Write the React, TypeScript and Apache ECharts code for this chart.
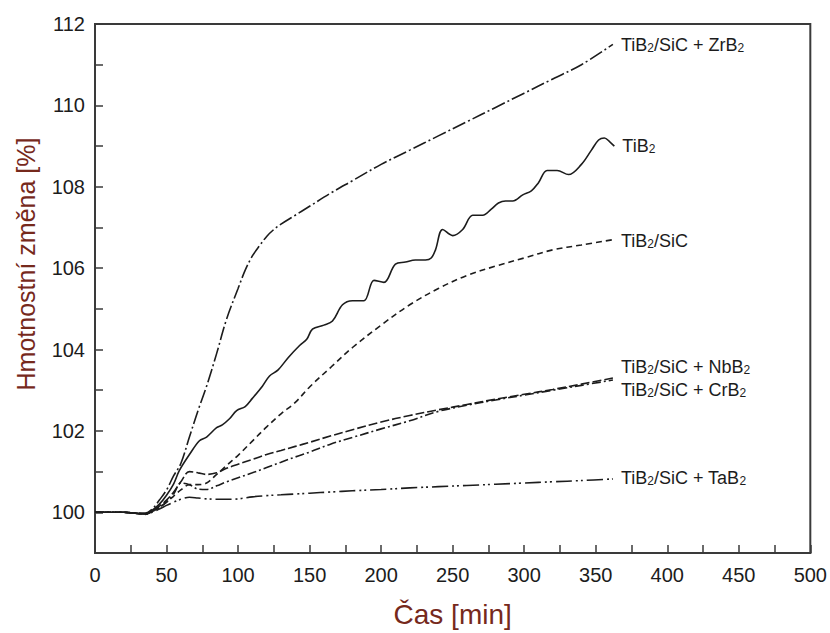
import React, { useEffect, useRef } from 'react';
import * as echarts from 'echarts';

// Shared sampling times (min) for the smooth curves
const timeGrid = [0, 10, 20, 30, 35, 40, 45, 50, 55, 60, 66, 72, 78, 85, 92, 100, 110, 120, 130, 140, 150, 165, 180, 200, 220, 240, 260, 280, 300, 320, 340, 362];

// TiB2/SiC + ZrB2 has its own (denser) sampling around the knee
const zrb2Times = [0, 10, 20, 30, 35, 40, 45, 50, 55, 60, 66, 72, 78, 85, 92, 100, 105, 110, 115, 120, 125, 130, 140, 150, 165, 180, 200, 220, 240, 260, 280, 300, 320, 340, 362];
const zrb2Values = [100, 100, 100, 99.98, 99.98, 100.08, 100.3, 100.55, 100.9, 101.2, 101.85, 102.5, 103.1, 103.9, 104.75, 105.5, 105.95, 106.3, 106.55, 106.78, 106.95, 107.08, 107.3, 107.52, 107.85, 108.15, 108.55, 108.9, 109.25, 109.6, 109.95, 110.3, 110.65, 111.0, 111.5];

const sicValues = [100, 100, 100, 99.97, 99.95, 100.02, 100.12, 100.25, 100.4, 100.55, 100.68, 100.68, 100.72, 100.93, 101.15, 101.4, 101.75, 102.1, 102.42, 102.7, 103.08, 103.57, 104.05, 104.6, 105.1, 105.5, 105.82, 106.05, 106.25, 106.45, 106.57, 106.7];
const nbb2Values = [100, 100, 100, 99.97, 99.96, 100.03, 100.15, 100.3, 100.5, 100.75, 101.0, 100.97, 100.93, 100.97, 101.08, 101.18, 101.3, 101.42, 101.52, 101.62, 101.72, 101.88, 102.03, 102.22, 102.38, 102.52, 102.65, 102.78, 102.9, 103.02, 103.15, 103.3];
const crb2Values = [100, 100, 100, 99.97, 99.96, 100.02, 100.12, 100.25, 100.45, 100.72, 100.68, 100.57, 100.56, 100.65, 100.75, 100.85, 100.97, 101.1, 101.23, 101.36, 101.48, 101.68, 101.84, 102.05, 102.25, 102.48, 102.63, 102.76, 102.88, 103.0, 103.12, 103.25];
const tab2Values = [100, 100, 100, 99.97, 99.96, 100.0, 100.08, 100.17, 100.25, 100.32, 100.37, 100.35, 100.33, 100.32, 100.32, 100.33, 100.38, 100.41, 100.43, 100.45, 100.47, 100.5, 100.53, 100.56, 100.6, 100.63, 100.66, 100.69, 100.72, 100.75, 100.78, 100.82];

// TiB2 (wavy curve) has its own sampling
const tib2Times = [0, 10, 20, 30, 35, 40, 45, 50, 55, 59, 66, 73, 78, 85, 89, 94, 99, 105, 110, 117, 122, 128, 135, 143, 148, 152, 160, 166, 173, 180, 188, 195, 202, 210, 217, 224, 231, 235, 238, 243, 250, 257, 264, 271, 277, 282, 287, 292, 299, 305, 310, 316, 323, 331, 340, 347, 352, 356, 360, 363];
const tib2Values = [100, 100, 100, 99.97, 99.96, 100.05, 100.2, 100.42, 100.7, 101.03, 101.42, 101.76, 101.85, 102.08, 102.15, 102.3, 102.5, 102.6, 102.8, 103.1, 103.35, 103.5, 103.8, 104.1, 104.25, 104.5, 104.6, 104.7, 105.1, 105.2, 105.2, 105.7, 105.65, 106.1, 106.15, 106.2, 106.2, 106.25, 106.45, 106.95, 106.8, 106.95, 107.3, 107.3, 107.45, 107.6, 107.65, 107.65, 107.8, 107.9, 108.1, 108.4, 108.4, 108.3, 108.55, 108.9, 109.15, 109.2, 109.1, 109.0];

// Curve labels (rich text: b = normal, s = subscript)
const seriesNames = ['TiB2/SiC + ZrB2', 'TiB2', 'TiB2/SiC', 'TiB2/SiC + NbB2', 'TiB2/SiC + CrB2', 'TiB2/SiC + TaB2'];
const seriesLabels = [
  '{b|TiB}{s|2}{b|/SiC + ZrB}{s|2}',
  '{b|TiB}{s|2}',
  '{b|TiB}{s|2}{b|/SiC}',
  '{b|TiB}{s|2}{b|/SiC + NbB}{s|2}',
  '{b|TiB}{s|2}{b|/SiC + CrB}{s|2}',
  '{b|TiB}{s|2}{b|/SiC + TaB}{s|2}',
];

const xTicksMajor = 50;
const yTicksMajor = 2;

const FONT = '"Liberation Sans", Arial, Helvetica, sans-serif';
const INK = '#1c1c1c';
const NAME_COLOR = '#76291c';

function pairs(t: number[], v: number[]) {
  return t.map((x, i) => [x, v[i]]);
}

export default function App() {
  const ref = useRef<HTMLDivElement>(null);

  useEffect(() => {
    if (!ref.current) return;
    const chart = echarts.init(ref.current, null, { renderer: 'svg' });

    const rich = {
      b: { fontSize: 18, fontFamily: FONT, color: INK, lineHeight: 20, verticalAlign: 'bottom' },
      s: { fontSize: 12, fontFamily: FONT, color: INK, lineHeight: 13, verticalAlign: 'bottom' },
    };

    const styles: { dash: any; dy: number }[] = [
      { dash: [14, 3, 2, 3], dy: 0 },
      { dash: 'solid', dy: -1 },
      { dash: [6, 4], dy: 0 },
      { dash: [9, 3], dy: -12 },
      { dash: [9, 3, 2, 3], dy: 9 },
      { dash: [16, 4, 2, 3, 2, 4], dy: -2 },
    ];

    const datasets = [
      pairs(zrb2Times, zrb2Values),
      pairs(tib2Times, tib2Values),
      pairs(timeGrid, sicValues),
      pairs(timeGrid, nbb2Values),
      pairs(timeGrid, crb2Values),
      pairs(timeGrid, tab2Values),
    ];

    const series = datasets.map((data, i) => ({
      name: seriesNames[i],
      type: 'line',
      data,
      smooth: 0.35,
      showSymbol: false,
      symbol: 'none',
      lineStyle: { color: INK, width: 1.6, type: styles[i].dash },
      endLabel: {
        show: true,
        formatter: () => seriesLabels[i],
        distance: 8,
        offset: [0, styles[i].dy],
        rich,
      },
      z: 3,
    }));

    chart.setOption({
      animation: false,
      backgroundColor: '#ffffff',
      grid: {
        left: 95,
        right: 18,
        top: 24,
        bottom: 77,
        show: true,
        borderColor: '#3a3a3a',
        borderWidth: 2,
      },
      xAxis: {
        type: 'value',
        min: 0,
        max: 500,
        interval: 25,
        name: 'Čas [min]',
        nameLocation: 'middle',
        nameGap: 47,
        nameTextStyle: { fontSize: 28, fontFamily: FONT, color: NAME_COLOR },
        axisLine: { show: true, lineStyle: { color: '#3a3a3a', width: 2 } },
        axisTick: { show: true, inside: true, length: 8, lineStyle: { color: '#3a3a3a', width: 1.5 } },
        axisLabel: {
          fontSize: 20,
          fontFamily: FONT,
          color: INK,
          margin: 12,
          formatter: (v: number) => (v % xTicksMajor === 0 ? String(v) : ''),
        },
        splitLine: { show: false },
      },
      yAxis: {
        type: 'value',
        min: 99,
        max: 112,
        interval: 1,
        axisLine: { show: true, lineStyle: { color: '#3a3a3a', width: 2 } },
        axisTick: { show: true, inside: true, length: 8, lineStyle: { color: '#3a3a3a', width: 1.5 } },
        axisLabel: {
          fontSize: 20,
          fontFamily: FONT,
          color: INK,
          margin: 10,
          formatter: (v: number) => (v % yTicksMajor === 0 ? String(v) : ''),
        },
        splitLine: { show: false },
      },
      graphic: [
        {
          type: 'text',
          x: 26,
          y: 264,
          rotation: Math.PI / 2,
          style: {
            text: 'Hmotnostní změna [%]',
            fontSize: 25,
            fontFamily: FONT,
            fill: NAME_COLOR,
            align: 'center',
            verticalAlign: 'middle',
          },
        },
      ],
      series,
    });

    return () => chart.dispose();
  }, []);

  return (
    <div
      ref={ref}
      style={{ position: 'absolute', left: 0, top: 0, width: 830, height: 633 }}
    />
  );
}
